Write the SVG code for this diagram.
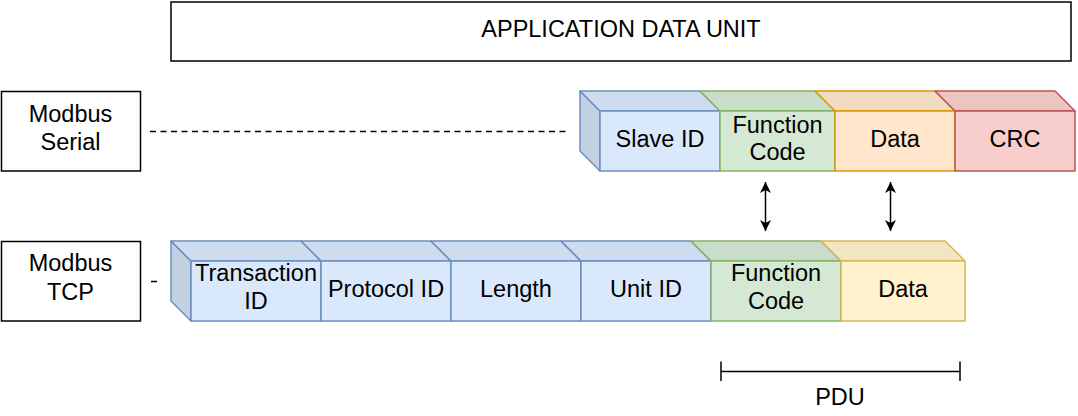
<svg xmlns="http://www.w3.org/2000/svg" width="1078" height="416" viewBox="0 0 1078 416">
<style>
text{font-family:"Liberation Sans",Arial,sans-serif;font-size:23.5px;fill:#000;text-anchor:middle}
.box{fill:#fff;stroke:#000;stroke-width:1.5}
.blue{stroke:#6c8ebf;stroke-width:1.5;stroke-linejoin:round}
.green{stroke:#82b366;stroke-width:1.5;stroke-linejoin:round}
.orange{stroke:#d79b00;stroke-width:1.5;stroke-linejoin:round}
.red{stroke:#b85450;stroke-width:1.5;stroke-linejoin:round}
.yellow{stroke:#d6b656;stroke-width:1.5;stroke-linejoin:round}
.conn{fill:none;stroke:#000;stroke-width:1.5}
</style>
<defs>
<marker id="ah" viewBox="0 0 12 12" refX="11" refY="6" markerWidth="12" markerHeight="12" markerUnits="userSpaceOnUse" orient="auto-start-reverse">
<path d="M0,0.5 L11,6 L0,11.5 L3,6 Z" fill="#000"/>
</marker>
</defs>

<g id="adu">
<rect class="box" x="171" y="2" width="900" height="59"/>
<text x="621" y="36.5">APPLICATION DATA UNIT</text>
</g>

<g id="modbus-serial">
<rect class="box" x="1.5" y="91.5" width="139" height="79.5"/>
<text x="70.5" y="121.5">Modbus</text>
<text x="70.5" y="150">Serial</text>
</g>

<g id="modbus-tcp">
<rect class="box" x="1.5" y="241.5" width="139" height="79.5"/>
<text x="70.5" y="271">Modbus</text>
<text x="70.5" y="299.5">TCP</text>
</g>

<g id="connectors">
<line class="conn" x1="150" y1="131.5" x2="566" y2="131.5" stroke-dasharray="6,4.5"/>
<line class="conn" x1="151" y1="281.5" x2="157" y2="281.5"/>
<line class="conn" x1="765.5" y1="182" x2="765.5" y2="231" marker-start="url(#ah)" marker-end="url(#ah)"/>
<line class="conn" x1="890.5" y1="182" x2="890.5" y2="231" marker-start="url(#ah)" marker-end="url(#ah)"/>
</g>

<g id="serial-slave-id">
<polygon class="blue" fill="#c4d1e3" points="580,91 600,111 600,171 580,151"/>
<polygon class="blue" fill="#cfdcef" points="580,91 700,91 720,111 600,111"/>
<rect class="blue" fill="#dae8fc" x="600" y="111" width="120" height="60"/>
<text x="660" y="146.5">Slave ID</text>
</g>
<g id="serial-function-code">
<polygon class="green" fill="#cadcca" points="700,91 815,91 835,111 720,111"/>
<rect class="green" fill="#d5e8d4" x="720" y="111" width="115" height="60"/>
<text x="777.5" y="133">Function</text>
<text x="777.5" y="160">Code</text>
</g>
<g id="serial-data">
<polygon class="orange" fill="#f2dbc2" points="815,91 935,91 955,111 835,111"/>
<rect class="orange" fill="#ffe6cc" x="835" y="111" width="120" height="60"/>
<text x="895" y="146.5">Data</text>
</g>
<g id="serial-crc">
<polygon class="red" fill="#ecc4c2" points="935,91 1055,91 1075,111 955,111"/>
<rect class="red" fill="#f8cecc" x="955" y="111" width="120" height="60"/>
<text x="1015" y="146.5">CRC</text>
</g>

<g id="tcp-transaction-id">
<polygon class="blue" fill="#c4d1e3" points="171,241 191,261 191,321 171,301"/>
<polygon class="blue" fill="#cfdcef" points="171,241 301,241 321,261 191,261"/>
<rect class="blue" fill="#dae8fc" x="191" y="261" width="130" height="60"/>
<text x="256" y="281">Transaction</text>
<text x="256" y="308.5">ID</text>
</g>
<g id="tcp-protocol-id">
<polygon class="blue" fill="#cfdcef" points="301,241 431,241 451,261 321,261"/>
<rect class="blue" fill="#dae8fc" x="321" y="261" width="130" height="60"/>
<text x="386" y="296.5">Protocol ID</text>
</g>
<g id="tcp-length">
<polygon class="blue" fill="#cfdcef" points="431,241 561,241 581,261 451,261"/>
<rect class="blue" fill="#dae8fc" x="451" y="261" width="130" height="60"/>
<text x="516" y="296.5">Length</text>
</g>
<g id="tcp-unit-id">
<polygon class="blue" fill="#cfdcef" points="561,241 691,241 711,261 581,261"/>
<rect class="blue" fill="#dae8fc" x="581" y="261" width="130" height="60"/>
<text x="646" y="296.5">Unit ID</text>
</g>
<g id="tcp-function-code">
<polygon class="green" fill="#cadcca" points="691,241 821,241 841,261 711,261"/>
<rect class="green" fill="#d5e8d4" x="711" y="261" width="130" height="60"/>
<text x="776" y="281">Function</text>
<text x="776" y="308.5">Code</text>
</g>
<g id="tcp-data">
<polygon class="yellow" fill="#f2e6c2" points="821,241 945,241 965,261 841,261"/>
<rect class="yellow" fill="#fff2cc" x="841" y="261" width="124" height="60"/>
<text x="903" y="296.5">Data</text>
</g>

<g id="pdu">
<line class="conn" x1="721" y1="371.5" x2="960" y2="371.5"/>
<line class="conn" x1="721" y1="361.5" x2="721" y2="381"/>
<line class="conn" x1="960" y1="361.5" x2="960" y2="381"/>
<text x="840" y="405">PDU</text>
</g>
</svg>
